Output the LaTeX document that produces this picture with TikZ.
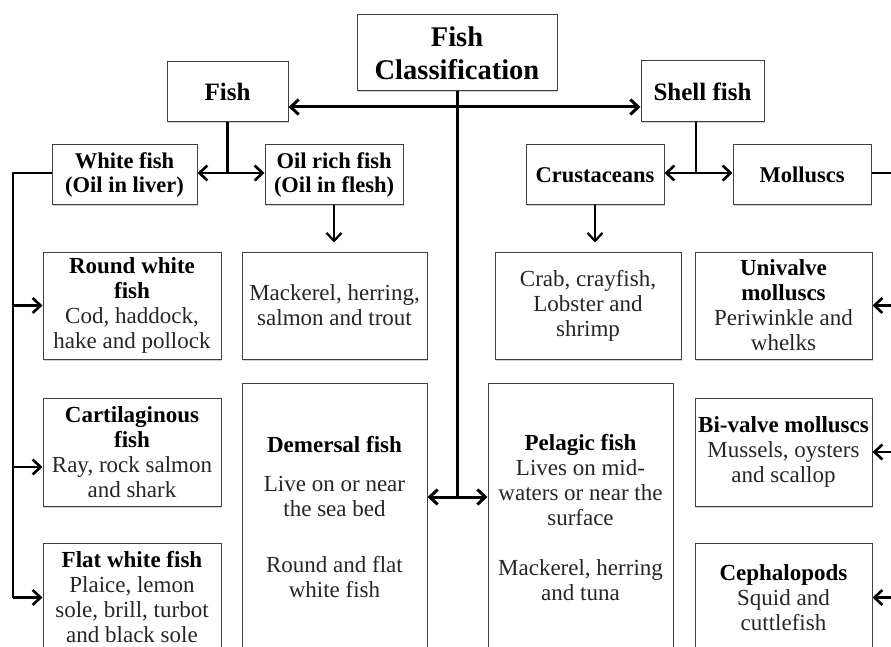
\documentclass[tikz,border=0pt]{standalone}
\usepackage{fontspec}
\setmainfont{Liberation Serif}
\usetikzlibrary{arrows.meta,shadows}
\begin{document}
\begin{tikzpicture}[x=1pt,y=-1pt,
  box/.style={draw=black!75,line width=1pt,fill=white,inner sep=2pt,align=center,
    drop shadow={shadow xshift=1.2pt,shadow yshift=-1.5pt,fill=black!30,opacity=0.6},
    font=\fontsize{23}{25}\selectfont, text=black!85},
  topbox/.style={box,font=\fontsize{25}{30}\selectfont\bfseries,text=black},
  subbox/.style={box,minimum width=138pt,minimum height=60pt,font=\fontsize{22.5}{24.5}\selectfont\bfseries,text=black},
  cell/.style={box,minimum height=107pt},
  conn/.style={line width=2.6pt,black,arrows={-Straight Barb[length=8pt,width=15pt]}},
  plain/.style={line width=2.6pt,black}
]
\useasboundingbox (0,0) rectangle (891,647);
\clip (0,0) rectangle (891,647);
\fill[white] (0,0) rectangle (891,647);

% top level
\node[topbox,minimum width=200pt,minimum height=76pt,font=\fontsize{28.5}{33}\selectfont\bfseries] (fc) at (457,53) {Fish\\Classification};
\node[topbox,minimum width=121pt,minimum height=60pt] (fish) at (227.5,92) {Fish};
\node[topbox,minimum width=123pt,minimum height=61pt] (shell) at (702.5,91.5) {Shell fish};

% second level
\node[subbox,minimum width=145pt] (white) at (124.5,175) {White fish\\(Oil in liver)};
\node[subbox] (oil) at (334,175) {Oil rich fish\\(Oil in flesh)};
\node[subbox] (crust) at (595,175) {Crustaceans};
\node[subbox] (moll) at (802,175) {Molluscs};

% white fish column
\node[cell,minimum width=178pt] (round) at (132,305.5) {\textbf{\color{black}Round white}\\\textbf{\color{black}fish}\\Cod, haddock,\\hake and pollock};
\node[cell,minimum width=178pt,minimum height=108pt] (cart) at (132,452) {\textbf{\color{black}Cartilaginous}\\\textbf{\color{black}fish}\\Ray, rock salmon\\and shark};
\node[cell,minimum width=178pt,minimum height=109pt] (flat) at (132,597.5) {\textbf{\color{black}Flat white fish}\\Plaice, lemon\\sole, brill, turbot\\and black sole};

% oil rich column
\node[cell,minimum width=185pt] (mack) at (334.5,305.5) {Mackerel, herring,\\salmon and trout};
\node[cell,minimum width=185pt,minimum height=269pt] (dem) at (334.5,517.5) {\textbf{\color{black}Demersal fish}\\[14pt]Live on or near\\the sea bed\\[31pt]Round and flat\\white fish};

% crustaceans column
\node[cell,minimum width=186pt] (crab) at (588,305.5) {Crab, crayfish,\\Lobster and\\shrimp};
\node[cell,minimum width=185pt,minimum height=269pt] (pel) at (580.5,517.5) {\textbf{\color{black}Pelagic fish}\\Lives on mid-\\waters or near the\\surface\\[25pt]Mackerel, herring\\and tuna};

% molluscs column
\node[cell,minimum width=177pt] (uni) at (783.5,305.5) {\textbf{\color{black}Univalve}\\\textbf{\color{black}molluscs}\\Periwinkle and\\whelks};
\node[cell,minimum width=177pt,minimum height=108pt] (bi) at (783.5,452) {\textbf{\color{black}Bi-valve molluscs}\\Mussels, oysters\\and scallop};
\node[cell,minimum width=177pt,minimum height=109pt] (ceph) at (783.5,597.5) {\textbf{\color{black}Cephalopods}\\Squid and\\cuttlefish};

% junction coordinates
\coordinate (hy) at (457,107);
\coordinate (jn) at (457,497);
\coordinate (fj) at (227.5,173);
\coordinate (sj) at (696,173);
\coordinate (lx) at (13,173);
\coordinate (cy) at (13,467);
\coordinate (rx) at (900,173);

% main connectors
\draw[conn,line width=3pt,arrows={Straight Barb[length=8pt,width=15pt]-Straight Barb[length=8pt,width=15pt]}] (fish.east |- hy) -- (shell.west |- hy);
\draw[plain,line width=3pt] (fc.south) -- (jn);
\draw[conn,line width=3pt] (jn) -- (dem.east |- jn);
\draw[conn,line width=3pt] (jn) -- (pel.west |- jn);

% fish branch
\draw[plain] (fish.south) -- (fj);
\draw[conn] (fj) -- (white.east |- fj);
\draw[conn] (fj) -- (oil.west |- fj);

% shell fish branch
\draw[plain] (sj |- shell.south) -- (sj);
\draw[conn] (sj) -- (crust.east |- sj);
\draw[conn] (sj) -- (moll.west |- sj);

% down arrows
\draw[conn,line width=2.2pt,shorten >=9pt] (oil.south) -- (oil.south |- mack.north);
\draw[conn,line width=2.2pt,shorten >=9pt] (crust.south) -- (crust.south |- crab.north);

% left bus
\draw[plain,line join=round] (white.west |- lx) -- (lx) -- (lx |- flat.west);
\draw[conn] (lx |- round.west) -- (round.west);
\draw[conn] (cy) -- (cart.west |- cy);
\draw[conn] (lx |- flat.west) -- (flat.west);

% right bus
\draw[plain] (moll.east |- rx) -- (rx);
\draw[plain] (rx) -- (rx |- ceph.east);
\draw[conn] (rx |- uni.east) -- (uni.east);
\draw[conn] (rx |- bi.east) -- (bi.east);
\draw[conn] (rx |- ceph.east) -- (ceph.east);
\end{tikzpicture}
\end{document}
